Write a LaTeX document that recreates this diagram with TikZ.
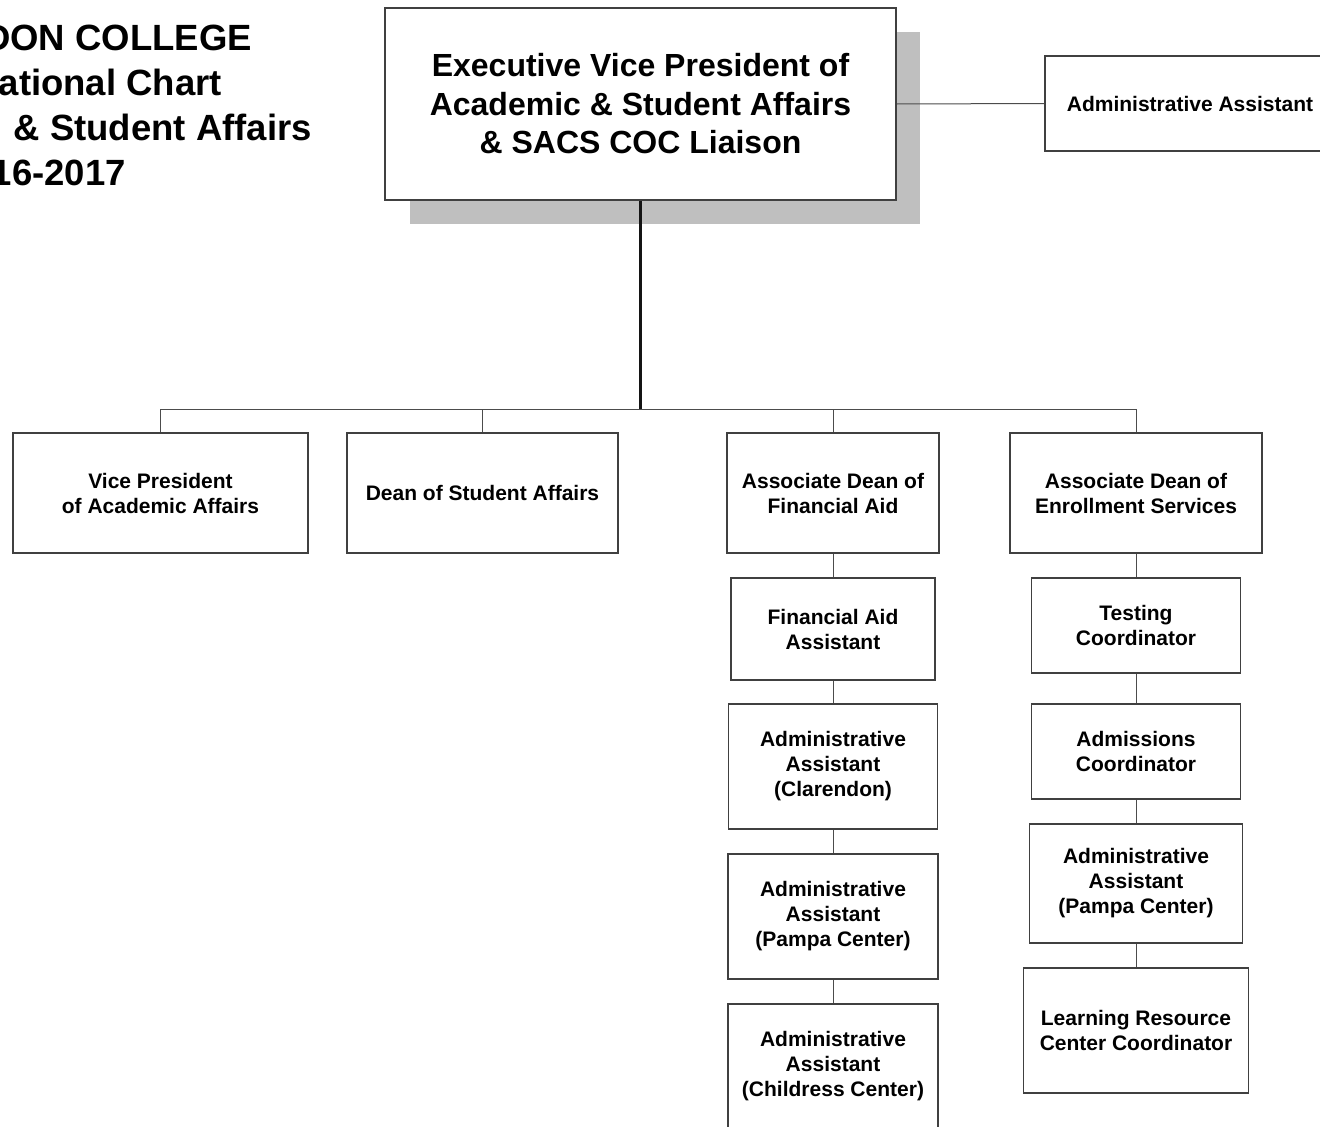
\documentclass[tikz,border=0pt]{standalone}
\usepackage{fontspec}
\setmainfont{Liberation Sans}
\begin{document}
\begin{tikzpicture}[x=1pt,y=-1pt,
  boxline/.style={draw=black!75,line width=1.5pt,fill=white,inner sep=0pt,align=center,font=\bfseries\fontsize{21}{25}\selectfont},
  conn/.style={draw=black!70,line width=1pt},
  mainconn/.style={draw=black!92,line width=2.2pt},
  titletext/.style={anchor=base east,inner sep=0pt,font=\bfseries\fontsize{36.5}{45}\selectfont}]
\useasboundingbox[fill=white] (0,0) rectangle (1320,1127);
% title (cut at left edge)
\node[titletext] (t1) at (252,50) {DON COLLEGE};
\node[titletext] (t2) at (222,95) {ational Chart};
\node[titletext] (t3) at (312,140) {\& Student Affairs};
\node[titletext] (t4) at (126,185) {16-2017};
% shadow of top box
\fill[black!25] (410,32) rectangle (920,224);
% top box
\node[boxline,minimum width=511pt,minimum height=192pt,font=\bfseries\fontsize{32}{38.5}\selectfont] (evp) at (640.5,104)
  {Executive Vice President of\\Academic \& Student Affairs\\\& SACS COC Liaison};
\node[boxline,minimum width=290pt,minimum height=95pt] (aa) at (1190,103.5) {Administrative Assistant};
\draw[conn] (evp.east) -- (aa.west);
% level 2
\node[boxline,minimum width=295pt,minimum height=120pt] (vp) at (160.5,493) {Vice President\\of Academic Affairs};
\node[boxline,minimum width=271pt,minimum height=120pt] (ds) at (482.5,493) {Dean of Student Affairs};
\node[boxline,minimum width=212pt,minimum height=120pt] (afa) at (833,493) {Associate Dean of\\Financial Aid};
\node[boxline,minimum width=252pt,minimum height=120pt] (aes) at (1136,493) {Associate Dean of\\Enrollment Services};
% bus
\coordinate (bus) at (640.5,409);
\draw[conn] (vp.north) |- (bus);
\draw[conn] (ds.north) |- (bus);
\draw[conn] (afa.north) |- (bus);
\draw[conn] (aes.north) |- (bus);
\draw[mainconn] (evp.south) -- (bus);
% financial aid column
\node[boxline,minimum width=204pt,minimum height=102pt] (faa) at (833,629) {Financial Aid\\Assistant};
\node[boxline,minimum width=209pt,minimum height=125pt] (acl) at (833,766.5) {Administrative\\Assistant\\(Clarendon)};
\node[boxline,minimum width=210pt,minimum height=125pt] (apf) at (833,916.5) {Administrative\\Assistant\\(Pampa Center)};
\node[boxline,minimum width=210pt,minimum height=125pt] (ach) at (833,1066.5) {Administrative\\Assistant\\(Childress Center)};
\draw[conn] (afa.south) -- (faa.north);
\draw[conn] (faa.south) -- (acl.north);
\draw[conn] (acl.south) -- (apf.north);
\draw[conn] (apf.south) -- (ach.north);
% enrollment column
\node[boxline,minimum width=209pt,minimum height=95pt] (tc) at (1136,625.5) {Testing\\Coordinator};
\node[boxline,minimum width=209pt,minimum height=95pt] (adc) at (1136,751.5) {Admissions\\Coordinator};
\node[boxline,minimum width=213pt,minimum height=119pt] (ape) at (1136,883.5) {Administrative\\Assistant\\(Pampa Center)};
\node[boxline,minimum width=225pt,minimum height=125pt] (lrc) at (1136,1030.5) {Learning Resource\\Center Coordinator};
\draw[conn] (aes.south) -- (tc.north);
\draw[conn] (tc.south) -- (adc.north);
\draw[conn] (adc.south) -- (ape.north);
\draw[conn] (ape.south) -- (lrc.north);
\end{tikzpicture}
\end{document}
